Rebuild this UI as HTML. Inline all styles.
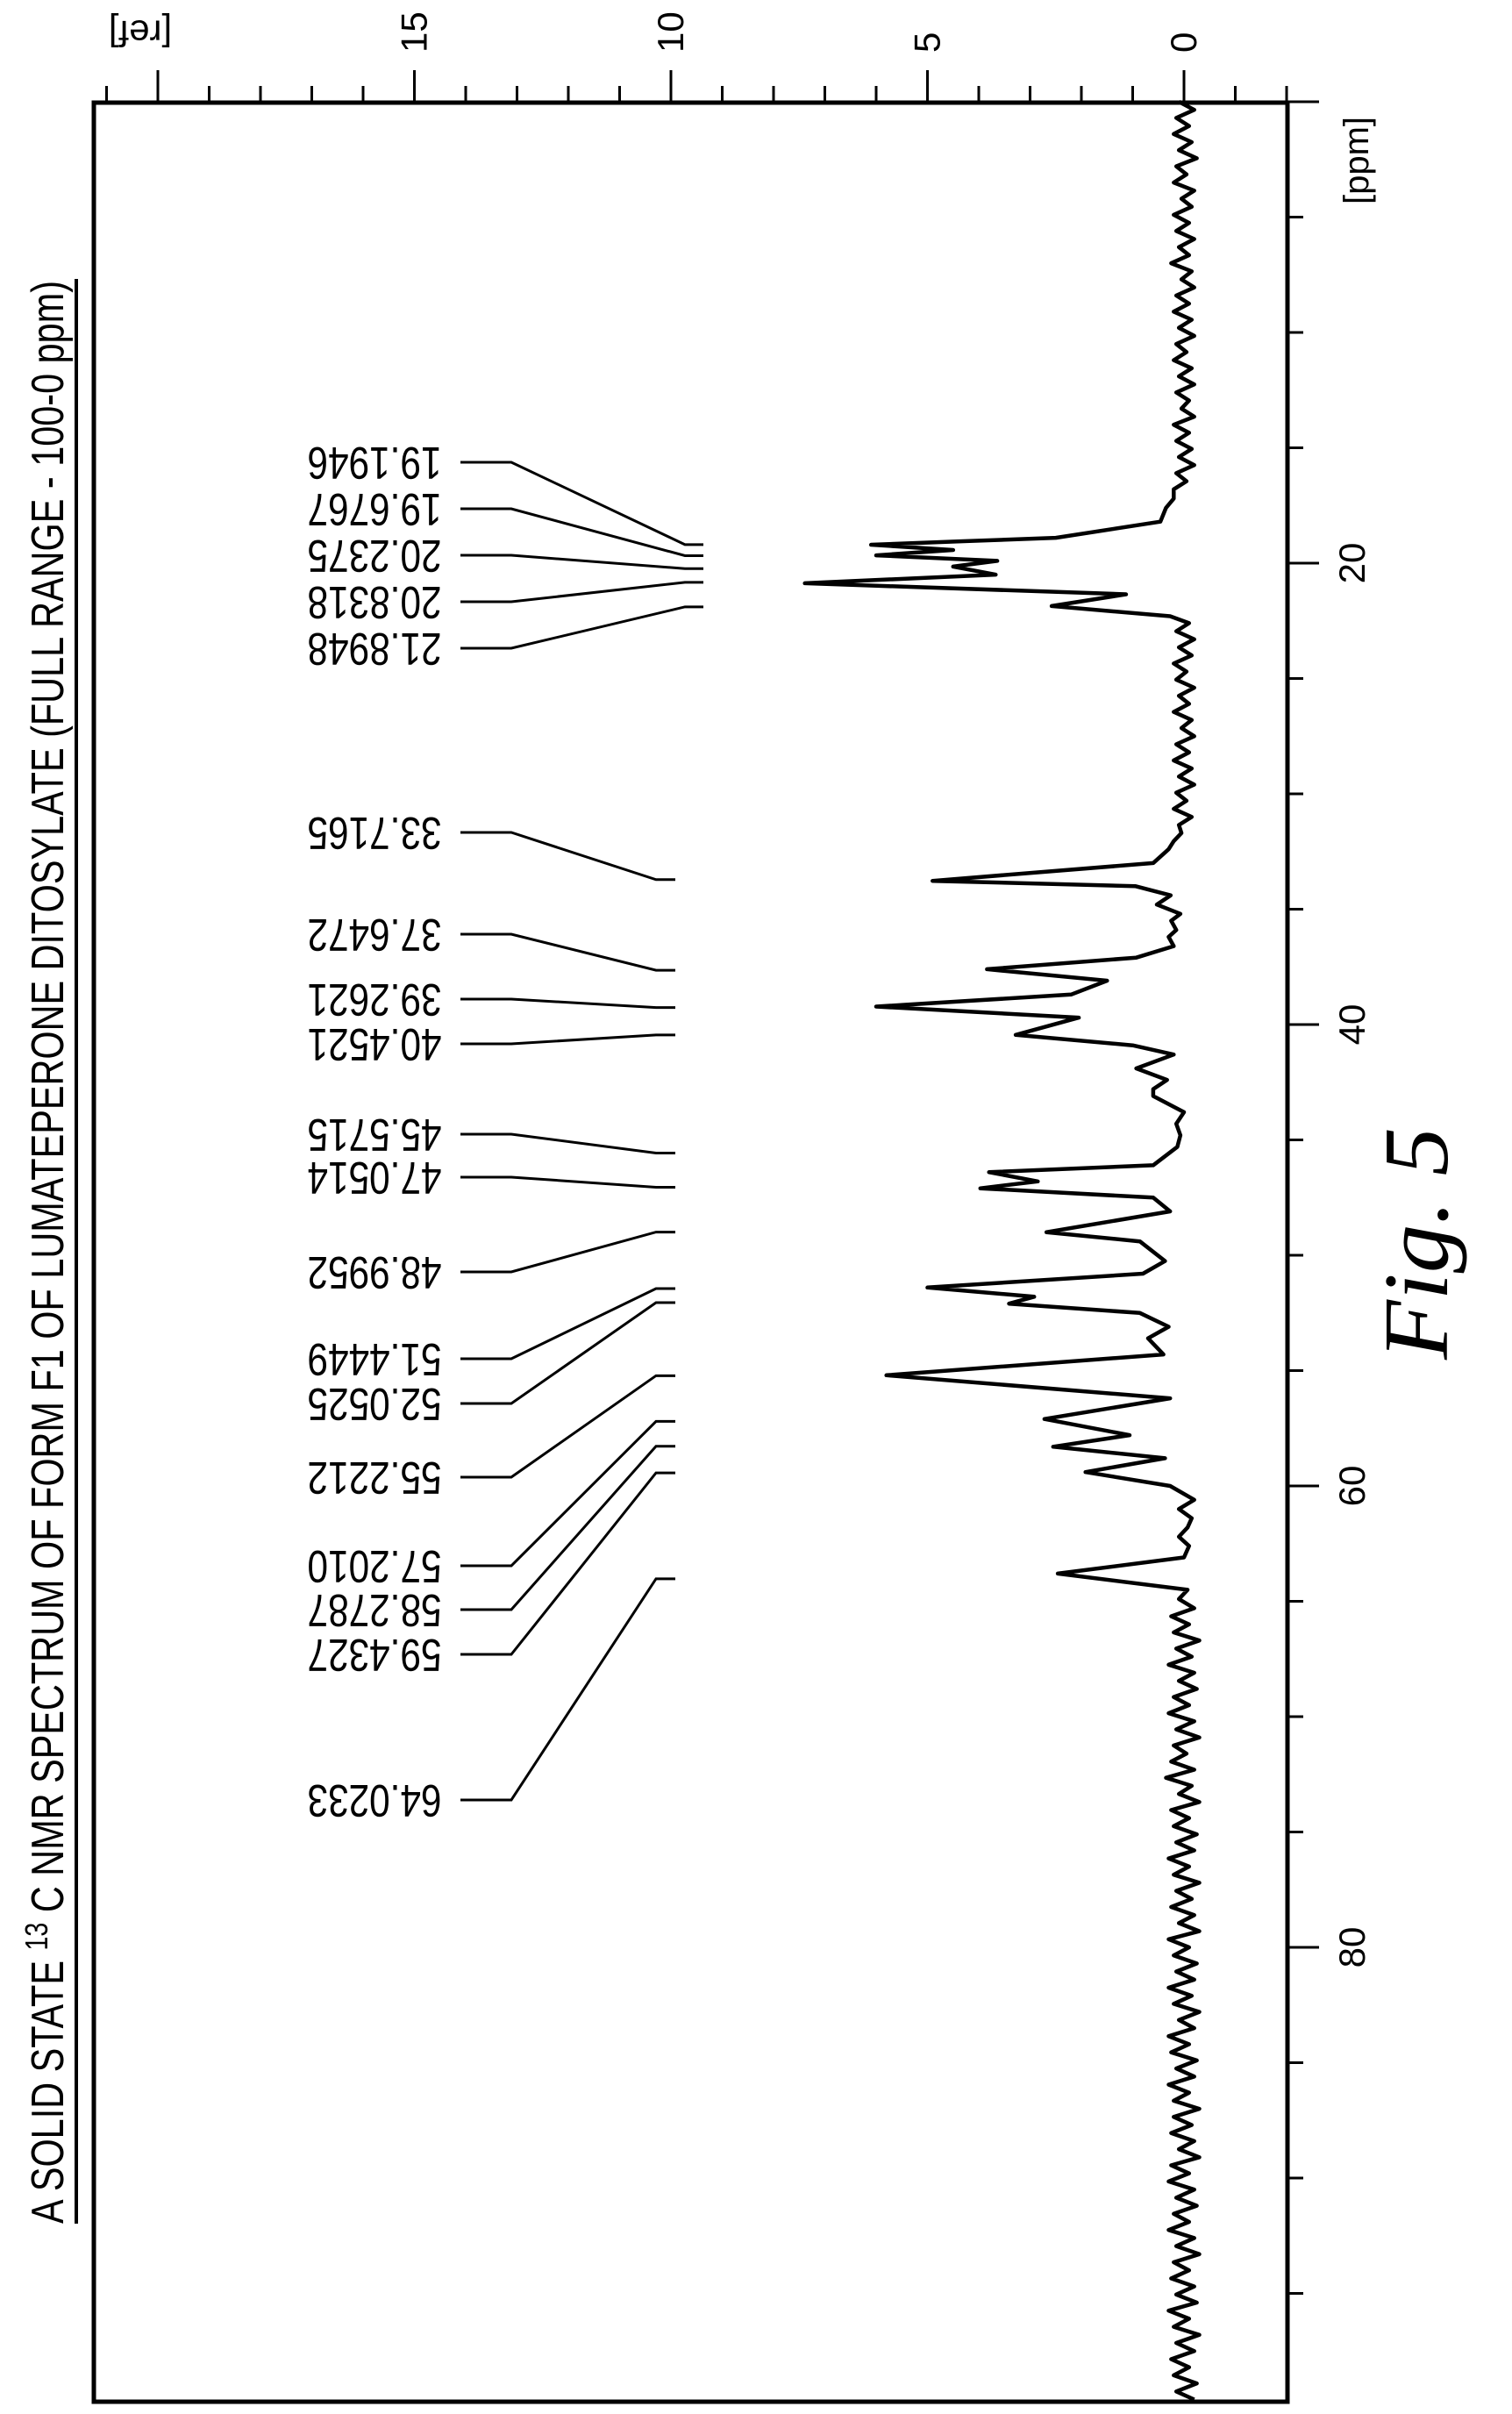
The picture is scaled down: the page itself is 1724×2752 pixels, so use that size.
<!DOCTYPE html>
<html><head><meta charset="utf-8"><style>
html,body{margin:0;padding:0;background:#fff;}
svg{display:block;}
text{font-family:"Liberation Sans",sans-serif;fill:#000;}
</style></head>
<body>
<svg id="chart" width="1724" height="2752" viewBox="0 0 1724 2752" xmlns="http://www.w3.org/2000/svg">
<rect x="0" y="0" width="1724" height="2752" fill="#fff"/>
<text transform="translate(72,2535) rotate(-90)" font-size="52" textLength="2215" lengthAdjust="spacingAndGlyphs">A SOLID STATE <tspan font-size="36" baseline-shift="18">13</tspan> C NMR SPECTRUM OF FORM F1 OF LUMATEPERONE DITOSYLATE (FULL RANGE - 100-0 ppm)</text>
<line x1="87" y1="2535" x2="87" y2="318" stroke="#000" stroke-width="4"/>
<rect x="107" y="117" width="1361" height="2621" fill="none" stroke="#000" stroke-width="5"/>
<g id="axes"></g>
<g id="leaders"></g>
<path id="spectrum" fill="none" stroke="#000" stroke-width="4.5" stroke-linejoin="round"/>
<text transform="translate(1650,1550) rotate(-90)" font-family="Liberation Serif, serif" font-style="italic" font-size="105" textLength="265" lengthAdjust="spacingAndGlyphs" style="font-family:'Liberation Serif',serif">Fig. 5</text>
</svg>
<script>
// ---- data ----
const refTickValues = [-2,-1,0,1,2,3,4,5,6,7,8,9,10,11,12,13,14,15,16,17,18,19,20,21];
const refTickLabels = ["0","5","10","15"];
const refLabelValues = [0,5,10,15];
const ppmTickValues = [0,5,10,15,20,25,30,35,40,45,50,55,60,65,70,75,80,85,90,95];
const ppmLabelValues = [20,40,60,80];
const peakLabels = ["19.1946","19.6767","20.2375","20.8318","21.8948","33.7165","37.6472","39.2621","40.4521","45.5715","47.0514","48.9952","51.4449","52.0525","55.2212","57.2010","58.2787","59.4327","64.0233"];
const peakPpm = [19.1946,19.6767,20.2375,20.8318,21.8948,33.7165,37.6472,39.2621,40.4521,45.5715,47.0514,48.9952,51.4449,52.0525,55.2212,57.2010,58.2787,59.4327,64.0233];
// spectrum: noise segments (uniform ppm grid) + explicit peak regions
const noiseA = [0.1,-0.2,0.15,-0.1,0.2,-0.15,0.1,-0.25,0.15,-0.05,0.2,-0.2,0.05,-0.15,0.2,-0.1,0.15,-0.2,0.1,-0.1,0.25,-0.15,0.05,-0.2,0.15,-0.1,0.2,-0.15,0.1,-0.2,0.15,-0.05,0.2,-0.15,0.1,-0.2,0.15,-0.1,0.05,-0.2,0.2,-0.1,0.15,-0.15,0.1,-0.2,0.15,-0.05,0.2];
const peakRegion1Ppm = [17.2,17.6,18.2,18.9,19.05,19.2,19.43,19.66,19.9,20.15,20.5,20.87,21.35,21.86,22.3];
const peakRegion1Int = [0.2,0.35,0.46,2.5,4.3,6.1,4.5,6.0,3.64,4.5,3.67,7.39,1.13,2.58,0.27];
const noiseB = [-0.1,0.15,-0.2,0.1,-0.15,0.2,-0.05,0.15,-0.2,0.1,-0.1,0.2,-0.15,0.05,-0.2,0.15,-0.1,0.2,-0.15,0.1,-0.2,0.15,-0.05,0.2,-0.15,0.1,0.05,0.2,0.3];
const peakRegion2Ppm = [32.5,33.0,33.77,34.0,34.4,34.8,35.2,35.5,35.9,36.2,36.6,37.1,37.6,38.1,38.7,39.22,39.7,40.45,40.9,41.3,41.9,42.4,42.8,43.1,43.8,44.3,44.8,45.3,46.1,46.4,46.8,47.1,47.5,48.1,49.0,49.4,50.25,50.8,51.4,51.8,52.1,52.5,53.1,53.6,54.3,55.2,56.2,57.1,57.8,58.3,58.8,59.4,60.0,60.6,61.0,61.4,61.8,62.2,62.6,63.1,63.8,64.5,64.9];
const peakRegion2Int = [0.35,0.6,4.9,0.95,0.26,0.53,0.07,0.25,0.15,0.3,0.2,0.93,3.84,1.5,2.2,6.0,2.05,3.28,1.0,0.2,0.93,0.33,0.6,0.6,0.0,0.15,0.07,0.13,0.6,3.8,2.85,3.97,0.6,0.27,2.68,0.86,0.37,0.8,5.0,2.92,3.41,0.86,0.3,0.7,0.4,5.8,0.27,2.72,1.06,2.55,0.37,1.92,0.27,-0.2,0.1,-0.15,-0.07,0.1,-0.1,0.0,2.46,-0.07,0.1];
const noiseC = [-0.2,0.25,-0.1,0.2,-0.3,0.15,-0.15,0.3,-0.2,0.1,-0.25,0.2,-0.1,0.3,-0.2,0.15,-0.3,0.2,-0.05,0.25,-0.2,0.35,-0.15,0.1,-0.3,0.25,-0.1,0.2,-0.25,0.15,-0.2,0.3,-0.1,0.2,-0.3,0.15,-0.15,0.25,-0.2,0.1,-0.3,0.3,-0.1,0.2,-0.25,0.15,-0.2,0.3,-0.15,0.2,-0.3,0.1,-0.2,0.3,-0.1,0.25,-0.25,0.15,-0.2,0.3,-0.1,0.2,-0.3,0.2,-0.15,0.25,-0.2,0.1,-0.3,0.25,-0.1,0.3,-0.2,0.15,-0.25,0.2,-0.1,0.3,-0.2,0.15,-0.3,0.2,-0.1,0.25,-0.2,0.15,-0.25,0.3,-0.1,0.2,-0.3,0.15,-0.2,0.25,-0.1,0.2,-0.25,0.15,-0.2,0.1];
const noiseAStart = 0, noiseBStart = 22.6, noiseCStart = 65.3, noiseStep = 0.35;

// ---- scales ----
function yPpm(p){ return 116 + 26.3*p; }
function xInt(v){ return 1350 - 58.5*v; }

const NS = "http://www.w3.org/2000/svg";
function mk(tag, attrs, parent){
  const e = document.createElementNS(NS, tag);
  for (const k in attrs) e.setAttribute(k, attrs[k]);
  parent.appendChild(e); return e;
}
const axes = document.getElementById('axes');

// ref axis ticks (top)
refTickValues.forEach(v=>{
  const x = xInt(v), major = (v % 5 === 0);
  const l = mk('line',{x1:x,y1:117,x2:x,y2:major?80:98,stroke:'#000','stroke-width':3},axes);
  
  
});
refLabelValues.forEach((v,i)=>{
  const t = mk('text',{transform:`translate(${xInt(v)+14},60) rotate(-90)`,'font-size':42},axes);
  t.textContent = refTickLabels[i];
  
  
});
const refTitle = mk('text',{transform:'translate(160,38) rotate(180)','text-anchor':'middle','dominant-baseline':'central','font-size':42},axes);
refTitle.textContent = '[ref]';



// ppm axis ticks (right)
ppmTickValues.forEach(p=>{
  const y = yPpm(p), major = (p % 20 === 0);
  const l = mk('line',{x1:1468,y1:y,x2:major?1504:1486,y2:y,stroke:'#000','stroke-width':3},axes);
  
  
});
ppmLabelValues.forEach(p=>{
  const t = mk('text',{transform:`translate(1556,${yPpm(p)}) rotate(-90)`,'text-anchor':'middle','font-size':42},axes);
  t.textContent = String(p);
  
  
});
const ppmTitle = mk('text',{transform:'translate(1560,183) rotate(-90)','text-anchor':'middle','font-size':40},axes);
ppmTitle.textContent = '[ppm]';



// peak labels + leader lines
const leaders = document.getElementById('leaders');
peakPpm.forEach((p,i)=>{
  const ly = (i < 5) ? 527 + 53*i : [949,1065,1139,1190,1293,1342,1450,1549,1600,1684,1785,1835,1886,2052][i-5];
  const ex1 = (i < 5) ? 781 : 748, ex2 = (i < 5) ? 802 : 770;
  const py = yPpm(p);
  const pl = mk('polyline',{points:`525,${ly} 583,${ly} ${ex1},${py} ${ex2},${py}`,fill:'none',stroke:'#000','stroke-width':3},leaders);
  
  
  const t = mk('text',{transform:`translate(427,${ly}) rotate(180)`,'text-anchor':'middle','dominant-baseline':'central','font-size':52,textLength:153,lengthAdjust:'spacingAndGlyphs'},leaders);
  t.textContent = peakLabels[i];
  
  
});

// spectrum
const pts = [];
noiseA.forEach((v,i)=>pts.push([noiseAStart + i*noiseStep, v]));
peakRegion1Ppm.forEach((p,i)=>pts.push([p, peakRegion1Int[i]]));
noiseB.forEach((v,i)=>pts.push([noiseBStart + i*noiseStep, v]));
peakRegion2Ppm.forEach((p,i)=>pts.push([p, peakRegion2Int[i]]));
noiseC.forEach((v,i)=>pts.push([noiseCStart + i*noiseStep, v]));
const d = pts.filter(q=>yPpm(q[0])<=2738).map((q,i)=>(i?'L':'M')+xInt(q[1]).toFixed(1)+','+yPpm(q[0]).toFixed(1)).join(' ');
document.getElementById('spectrum').setAttribute('d', d);
</script>
</body></html>
